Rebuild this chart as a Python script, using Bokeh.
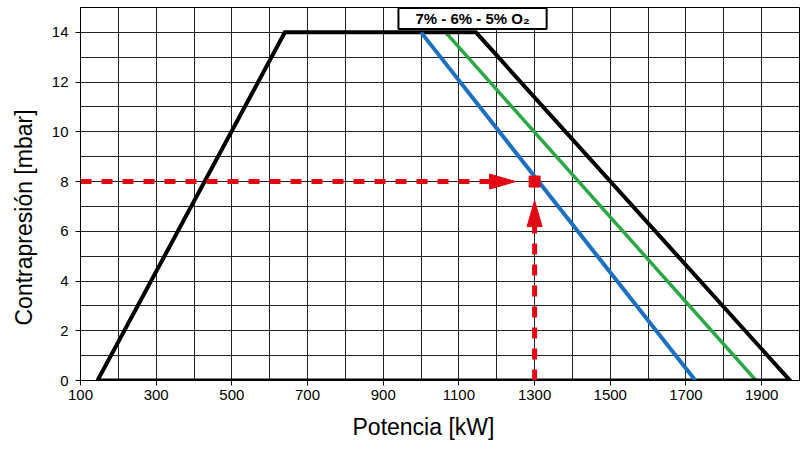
from bokeh.plotting import figure
from bokeh.models import Range1d, FixedTicker, Label, Title
from bokeh.embed import file_html
from bokeh.resources import INLINE

# ---------------- data ----------------
x_ticks = [100, 300, 500, 700, 900, 1100, 1300, 1500, 1700, 1900]
y_ticks = [0, 2, 4, 6, 8, 10, 12, 14]
x_grid = list(range(100, 2001, 100))
y_grid = list(range(0, 16, 1))

envelope_kw = [145, 640, 1145, 1975, 145]
envelope_mbar = [0, 14, 14, 0, 0]

o2_5_kw = [1000, 1725]      # blue
o2_5_mbar = [14, 0]
o2_6_kw = [1065, 1885]      # green
o2_6_mbar = [14, 0]

op_kw = [1300]
op_mbar = [8]

label_text = "7% - 6% - 5% O\u2082"
x_title = "Potencia [kW]"
y_title = "Contrapresión [mbar]"

# ---------------- style ----------------
RED = "#e30613"
BLUE = "#1b70c0"
GREEN = "#2aa845"
FONT = "Liberation Sans"

X0, X1, Y0, Y1 = 100, 2000, 0, 15
W, H = 805, 452
ML, MR, MT, MB = 80, 6, 7, 72
frame_w = W - ML - MR
frame_h = H - MT - MB
kx = (X1 - X0) / frame_w   # kW per pixel
ky = (Y1 - Y0) / frame_h   # mbar per pixel

p = figure(width=W, height=H, x_range=Range1d(X0, X1), y_range=Range1d(Y0, Y1),
           output_backend="svg", toolbar_location=None,
           min_border_left=ML, min_border_right=MR, min_border_top=MT, min_border_bottom=MB)
p.background_fill_color = "white"
p.border_fill_color = "white"
p.outline_line_color = "black"
p.outline_line_width = 1

for ax, ticks in ((p.xaxis, x_ticks), (p.yaxis, y_ticks)):
    ax.ticker = FixedTicker(ticks=ticks)
    ax.major_label_text_font = FONT
    ax.major_label_text_font_size = "15px"
    ax.major_label_text_color = "black"
    ax.major_tick_in = 0
    ax.major_tick_out = 5
    ax.major_tick_line_color = "black"
    ax.minor_tick_line_color = None
    ax.axis_line_color = "black"

p.xaxis.major_label_standoff = 4
p.yaxis.major_label_standoff = 7

p.xgrid.ticker = FixedTicker(ticks=x_grid)
p.ygrid.ticker = FixedTicker(ticks=y_grid)
for g in (p.xgrid, p.ygrid):
    g.grid_line_color = "#222222"
    g.grid_line_width = 1
    g.grid_line_alpha = 1

# axis titles as side titles (offset along the axis)
p.add_layout(Title(text=x_title, align="left", offset=272, standoff=18, vertical_align="bottom",
                   text_font=FONT, text_font_size="23px", text_font_style="normal",
                   text_color="black"), "below")
p.add_layout(Title(text=y_title, align="left", offset=55, standoff=20, vertical_align="top",
                   text_font=FONT, text_font_size="23px", text_font_style="normal",
                   text_color="black"), "left")

# curves
p.line(o2_6_kw, o2_6_mbar, line_color=GREEN, line_width=3.5)
p.line(envelope_kw, envelope_mbar, line_color="black", line_width=4, line_join="miter")
p.line(o2_5_kw, o2_5_mbar, line_color=BLUE, line_width=4)

# operating point and dashed arrows
ox, oy = op_kw[0], op_mbar[0]
gap_px, head_len_px, head_hw_px = 19, 26, 7.5

tip_x = ox - gap_px * kx
p.line([X0, tip_x - head_len_px * kx + 2 * kx], [oy, oy], line_color=RED, line_width=5,
       line_dash="11 10")
p.patch([tip_x, tip_x - head_len_px * kx, tip_x - head_len_px * kx],
        [oy, oy + head_hw_px * ky, oy - head_hw_px * ky], fill_color=RED, line_color=RED)

tip_y = oy - gap_px * ky
p.line([ox, ox], [Y0, tip_y - head_len_px * ky + 2 * ky], line_color=RED, line_width=5,
       line_dash="11 10")
p.patch([ox, ox - head_hw_px * kx, ox + head_hw_px * kx],
        [tip_y, tip_y - head_len_px * ky, tip_y - head_len_px * ky], fill_color=RED, line_color=RED)

p.scatter(op_kw, op_mbar, marker="square", size=11, fill_color=RED, line_color=RED)

lab = Label(x=1136, y=Y1 - 11 * ky, text=label_text, text_align="center", text_baseline="middle",
            text_font=FONT, text_font_size="15px", text_font_style="bold", text_color="black",
            background_fill_color="white", border_line_color="black", border_line_width=2,
            padding=(17, 2))
p.add_layout(lab)

open("out.html", "w").write(file_html(p, INLINE))
